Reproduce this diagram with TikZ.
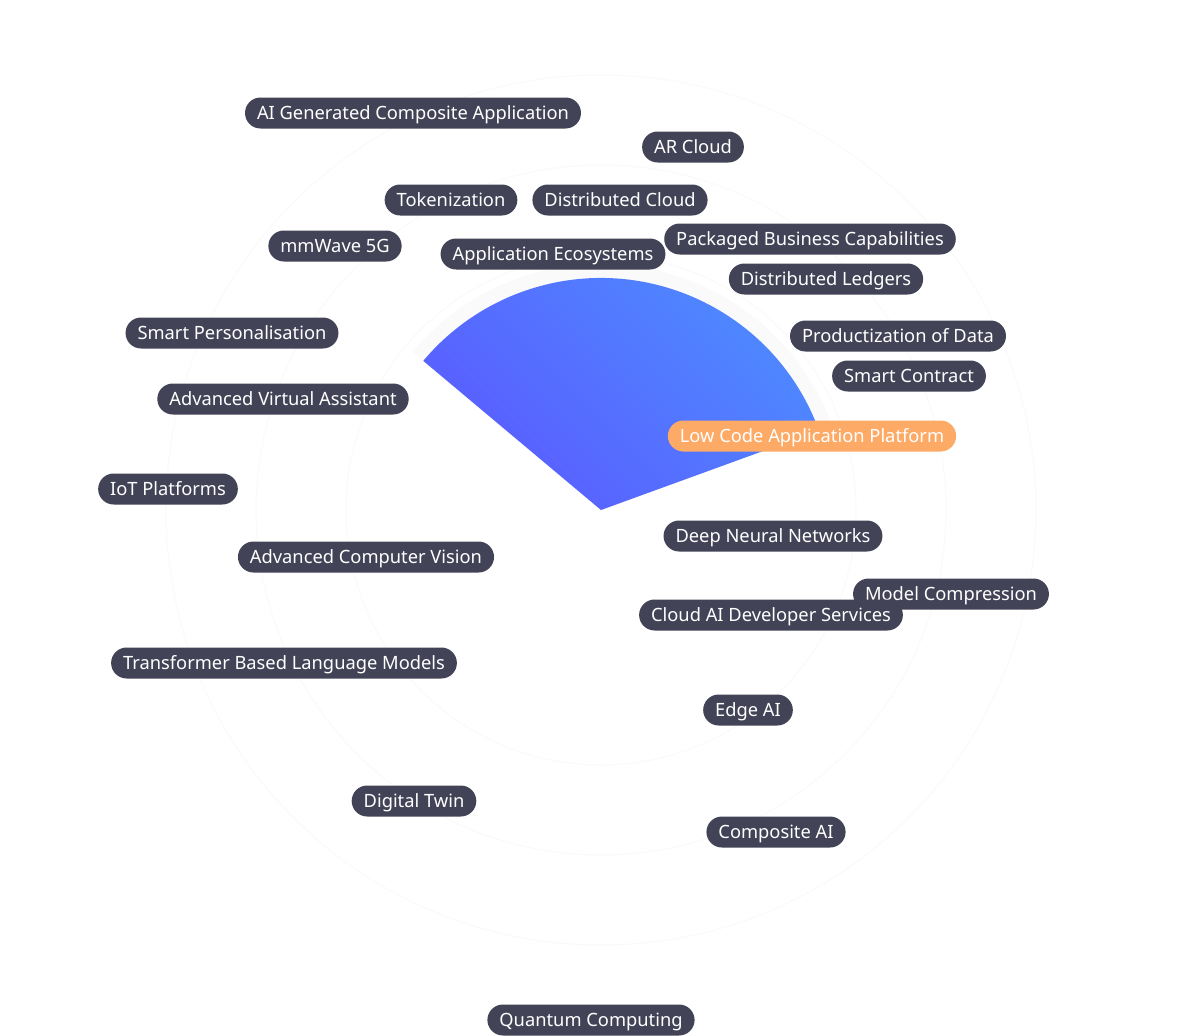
\documentclass[tikz,border=0pt]{standalone}
\usepackage{fontspec}
\setmainfont{Noto Sans}
\usetikzlibrary{calc}
\definecolor{pill}{HTML}{434357}
\definecolor{hot}{HTML}{FDAA66}
\definecolor{secA}{HTML}{4D8CFF}
\definecolor{secB}{HTML}{5A5CFF}
\definecolor{ring}{HTML}{FAFAFB}
\tikzset{
  lbl/.style={fill=pill, text=white, rounded corners=15.5pt, minimum height=31pt,
    inner xsep=12pt, inner ysep=0pt, text height=12.5pt, text depth=0pt,
    font=\fontsize{18.3}{21}\selectfont},
  hotlbl/.style={lbl, fill=hot},
}
\begin{document}
\begin{tikzpicture}[x=1pt,y=-1pt]
\useasboundingbox (0,0) rectangle (1200,1036);
\fill[white] (0,0) rectangle (1200,1036);
% faint rings
\coordinate (c) at (601,510);
\foreach \r in {255,345,435} \draw[ring, line width=1pt] (c) circle[radius=\r pt];
\fill[ring] (c) -- ($(c)+(20:246pt)$) arc[start angle=20,end angle=140,radius=246pt] -- cycle;
% sector
\shade[left color=secB, right color=secA, shading angle=135]
  (c) -- ($(c)+(20:232pt)$) arc[start angle=20, end angle=140, radius=232pt] -- cycle;
% labels
\node[lbl] (n1) at (413,113) {AI Generated Composite Application};
\node[lbl] (n2) at (693,147) {AR Cloud};
\node[lbl] (n3) at (451,200) {Tokenization};
\node[lbl] (n4) at (620,200) {Distributed Cloud};
\node[lbl] (n5) at (335,246) {mmWave 5G};
\node[lbl] (n6) at (553,254) {Application Ecosystems};
\node[lbl] (n7) at (810,239) {Packaged Business Capabilities};
\node[lbl] (n8) at (826,279) {Distributed Ledgers};
\node[lbl] (n9) at (232,333) {Smart Personalisation};
\node[lbl] (n10) at (898,336) {Productization of Data};
\node[lbl] (n11) at (909,376) {Smart Contract};
\node[lbl] (n12) at (283,399) {Advanced Virtual Assistant};
\node[hotlbl] (n13) at (812,436) {Low Code Application Platform};
\node[lbl] (n14) at (168,489) {IoT Platforms};
\node[lbl] (n15) at (773,536) {Deep Neural Networks};
\node[lbl] (n16) at (366,557) {Advanced Computer Vision};
\node[lbl] (n17) at (951,594) {Model Compression};
\node[lbl] (n18) at (771,615) {Cloud AI Developer Services};
\node[lbl] (n19) at (284,663) {Transformer Based Language Models};
\node[lbl] (n20) at (748,710) {Edge AI};
\node[lbl] (n21) at (414,801) {Digital Twin};
\node[lbl] (n22) at (776,832) {Composite AI};
\node[lbl] (n23) at (591,1020) {Quantum Computing};
\end{tikzpicture}
\end{document}
